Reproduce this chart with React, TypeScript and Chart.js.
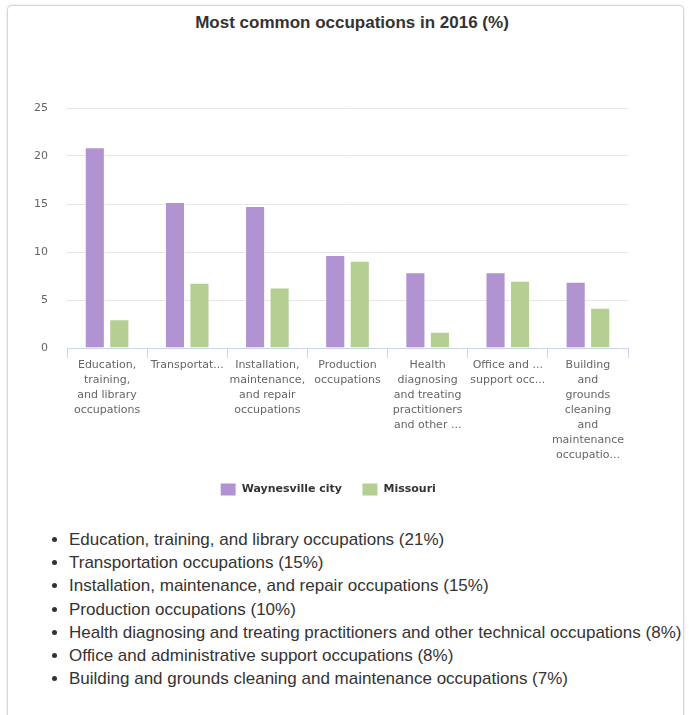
import React, { useEffect, useRef } from "react";
import { Chart, registerables } from "chart.js";

Chart.register(...registerables);

const titleText = "Most common occupations in 2016 (%)";

const categories: string[][] = [
  ["Education,", "training,", "and library", "occupations"],
  ["Transportat..."],
  ["Installation,", "maintenance,", "and repair", "occupations"],
  ["Production", "occupations"],
  ["Health", "diagnosing", "and treating", "practitioners", "and other ..."],
  ["Office and ...", "support occ..."],
  ["Building", "and", "grounds", "cleaning", "and", "maintenance", "occupatio..."],
];

const seriesNames = ["Waynesville city", "Missouri"];
const waynesville = [20.9, 15.2, 14.8, 9.7, 7.9, 7.9, 6.9];
const missouri = [3.0, 6.8, 6.3, 9.1, 1.7, 7.0, 4.2];

const yMax = 25;
const yStep = 5;

const listNames = [
  "Education, training, and library occupations",
  "Transportation occupations",
  "Installation, maintenance, and repair occupations",
  "Production occupations",
  "Health diagnosing and treating practitioners and other technical occupations",
  "Office and administrative support occupations",
  "Building and grounds cleaning and maintenance occupations",
];
const listPercents = [21, 15, 15, 10, 8, 8, 7];

const PURPLE = "#b093d0";
const GREEN = "#b5cf92";

export default function App() {
  const canvasRef = useRef<HTMLCanvasElement | null>(null);

  useEffect(() => {
    if (!canvasRef.current) return;
    const chart = new Chart(canvasRef.current, {
      type: "bar",
      data: {
        labels: categories,
        datasets: [
          {
            label: seriesNames[0],
            data: waynesville,
            backgroundColor: PURPLE,
            borderColor: "#ffffff",
            borderWidth: 1,
            categoryPercentage: 0.612,
            barPercentage: 0.82,
          },
          {
            label: seriesNames[1],
            data: missouri,
            backgroundColor: GREEN,
            borderColor: "#ffffff",
            borderWidth: 1,
            categoryPercentage: 0.612,
            barPercentage: 0.82,
          },
        ],
      },
      options: {
        animation: false,
        responsive: false,
        maintainAspectRatio: false,
        layout: { padding: { left: 38, right: 55, top: 71, bottom: 0 } },
        scales: {
          x: {
            grid: {
              display: true,
              drawOnChartArea: false,
              drawTicks: true,
              tickLength: 10,
              color: "#ccd6eb",
              offset: true,
            },
            border: { display: true, color: "#ccd6eb" },
            ticks: {
              autoSkip: false,
              maxRotation: 0,
              minRotation: 0,
              padding: 0,
              color: "#666666",
              font: { family: "DejaVu Sans", size: 11, lineHeight: "15px" },
            },
          },
          y: {
            min: 0,
            max: yMax,
            afterFit: (scale: any) => {
              scale.width = 39;
            },
            grid: { color: "#e6e6e6", drawTicks: false },
            border: { display: false },
            ticks: {
              stepSize: yStep,
              padding: 19,
              color: "#666666",
              font: { family: "DejaVu Sans", size: 11 },
            },
          },
        },
        plugins: {
          title: { display: false },
          tooltip: { enabled: false },
          legend: {
            display: true,
            position: "bottom",
            labels: {
              boxWidth: 16,
              boxHeight: 13,
              padding: 20,
              color: "#333333",
              font: { family: "DejaVu Sans", size: 11, weight: "bold" },
            },
          },
        },
      },
    });
    return () => chart.destroy();
  }, []);

  return (
    <>
      <style>{`body{overflow:hidden;}`}</style>
      <div
        style={{
          position: "absolute",
          left: 7,
          top: 5,
          width: 675,
          height: 740,
          border: "1px solid #d6d6d6",
          borderRadius: 5,
          boxShadow: "0 0 3px rgba(0,0,0,0.12)",
          background: "#ffffff",
        }}
      >
        <div
          style={{
            position: "absolute",
            top: 7,
            left: 0,
            width: 675,
            boxSizing: "border-box",
            paddingLeft: 13,
            textAlign: "center",
            fontFamily: "'Liberation Sans', Arial, sans-serif",
            fontWeight: "bold",
            fontSize: 17,
            lineHeight: "20px",
            color: "#333333",
          }}
        >
          {titleText}
        </div>
        <div style={{ position: "absolute", top: 31, left: -18, width: 693, height: 469 }}>
          <canvas ref={canvasRef} width={693} height={469} style={{ display: "block" }} />
        </div>
        <ul
          style={{
            position: "absolute",
            top: 522,
            left: 0,
            margin: 0,
            paddingLeft: 61,
            fontFamily: "'Liberation Sans', Arial, sans-serif",
            fontSize: 17,
            lineHeight: "23.2px",
            color: "#333333",
          }}
        >
          {listNames.map((n, i) => (
            <li key={i}>
              {n} ({listPercents[i]}%)
            </li>
          ))}
        </ul>
      </div>
    </>
  );
}
